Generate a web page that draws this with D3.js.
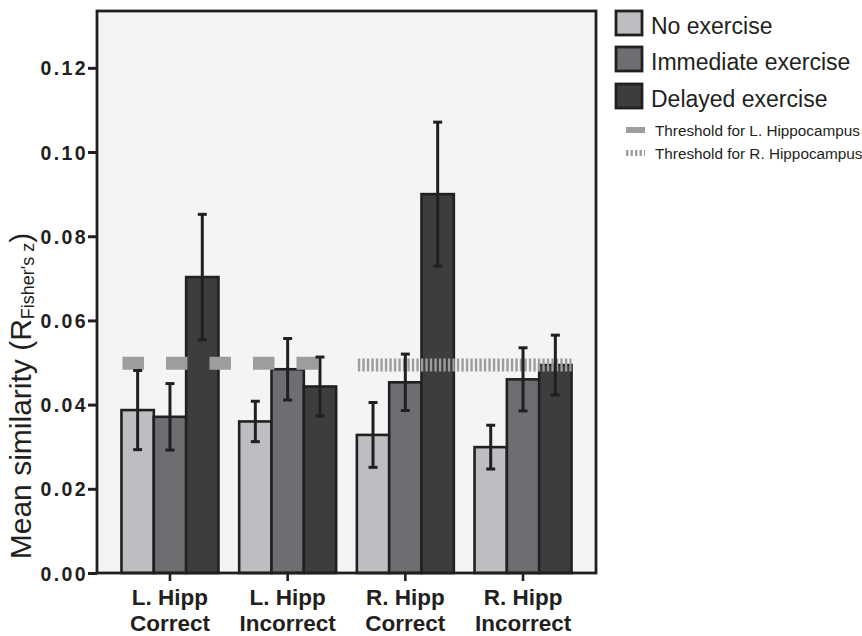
<!DOCTYPE html>
<html>
<head>
<meta charset="utf-8">
<script src="https://cdn.jsdelivr.net/npm/d3@7"></script>
<style>
  html, body { margin: 0; padding: 0; background: #ffffff; }
  svg { display: block; font-family: "Liberation Sans", Arial, Helvetica, sans-serif; }
</style>
</head>
<body>
<svg id="chart" width="862" height="636"></svg>
<script>
// ---- data ----
const categories = [["L. Hipp", "Correct"], ["L. Hipp", "Incorrect"], ["R. Hipp", "Correct"], ["R. Hipp", "Incorrect"]];
const seriesNames = ["No exercise", "Immediate exercise", "Delayed exercise"];
const noExercise = [0.0387, 0.0360, 0.0328, 0.0299];
const immediateExercise = [0.0371, 0.0484, 0.0453, 0.0460];
const delayedExercise = [0.0703, 0.0443, 0.0900, 0.0494];
const noExerciseErr = [0.0094, 0.0048, 0.0077, 0.0052];
const immediateExerciseErr = [0.0079, 0.0073, 0.0067, 0.0075];
const delayedExerciseErr = [0.0149, 0.0070, 0.0171, 0.0071];
const thresholdNames = ["Threshold for L. Hippocampus", "Threshold for R. Hippocampus"];
const thresholdValues = [0.0498, 0.0494];
const thresholdGroups = [[0, 1], [2, 3]];
const yTicks = [0.00, 0.02, 0.04, 0.06, 0.08, 0.10, 0.12];

// ---- styles ----
const seriesColors = ["#bdbec1", "#6d6e72", "#3d3d3e"];
const ink = "#231f20";
const threshColor = "#9c9d9f";

const svg = d3.select("#chart");
const frame = { left: 97, right: 596, top: 11, bottom: 573 };

const x = d3.scaleBand().domain(d3.range(categories.length))
  .range([frame.left, frame.right]).paddingInner(0.176).paddingOuter(0.208);
const xs = d3.scaleBand().domain(d3.range(seriesNames.length)).range([0, x.bandwidth()]);
const y = d3.scaleLinear().domain([0, 0.1335]).range([frame.bottom, frame.top]);

const values = [noExercise, immediateExercise, delayedExercise];
const errs = [noExerciseErr, immediateExerciseErr, delayedExerciseErr];

// plot background
svg.append("rect").attr("x", frame.left).attr("y", frame.top)
  .attr("width", frame.right - frame.left).attr("height", frame.bottom - frame.top)
  .attr("fill", "#f4f4f4");

// bars
const barData = [];
categories.forEach((c, i) => seriesNames.forEach((s, j) => barData.push({ i, j, v: values[j][i], e: errs[j][i] })));

svg.append("g").selectAll("rect").data(barData).join("rect")
  .attr("x", d => x(d.i) + xs(d.j))
  .attr("y", d => y(d.v))
  .attr("width", xs.bandwidth())
  .attr("height", d => y(0) - y(d.v))
  .attr("fill", d => seriesColors[d.j])
  .attr("stroke", ink).attr("stroke-width", 2.6);

// thresholds
svg.append("line")
  .attr("x1", x(thresholdGroups[0][0]) + 1).attr("x2", x(thresholdGroups[0][1]) + x.bandwidth())
  .attr("y1", y(thresholdValues[0])).attr("y2", y(thresholdValues[0]))
  .attr("stroke", threshColor).attr("stroke-width", 13).attr("stroke-dasharray", "21.5,22");
svg.append("line")
  .attr("x1", x(thresholdGroups[1][0]) + 1).attr("x2", x(thresholdGroups[1][1]) + x.bandwidth())
  .attr("y1", y(thresholdValues[1])).attr("y2", y(thresholdValues[1]))
  .attr("stroke", threshColor).attr("stroke-width", 13).attr("stroke-dasharray", "2.4,2.1");

// error bars
const eb = svg.append("g").attr("stroke", ink).attr("stroke-width", 3);
barData.forEach(d => {
  const cx = x(d.i) + xs(d.j) + xs.bandwidth() / 2;
  eb.append("line").attr("x1", cx).attr("x2", cx).attr("y1", y(d.v - d.e)).attr("y2", y(d.v + d.e));
  eb.append("line").attr("x1", cx - 4.5).attr("x2", cx + 4.5).attr("y1", y(d.v + d.e)).attr("y2", y(d.v + d.e));
  eb.append("line").attr("x1", cx - 4.5).attr("x2", cx + 4.5).attr("y1", y(d.v - d.e)).attr("y2", y(d.v - d.e));
});

// frame
svg.append("rect").attr("x", frame.left).attr("y", frame.top)
  .attr("width", frame.right - frame.left).attr("height", frame.bottom - frame.top)
  .attr("fill", "none").attr("stroke", ink).attr("stroke-width", 2.8);

// y axis
const yAxis = d3.axisLeft(y).tickValues(yTicks).tickFormat(d3.format(".2f")).tickSize(9).tickPadding(0);
const gy = svg.append("g").attr("transform", `translate(${frame.left},0)`).call(yAxis);
gy.select(".domain").remove();
gy.selectAll(".tick line").attr("stroke", ink).attr("stroke-width", 3);
gy.selectAll(".tick text").attr("fill", ink).attr("font-size", 19.5).attr("font-weight", "bold")
  .attr("font-family", "'Liberation Sans', Arial, sans-serif").attr("letter-spacing", 2.4)
  .attr("dy", "0.36em");

// x axis ticks
const xAxis = d3.axisBottom(x).tickSize(8).tickFormat("");
const gx = svg.append("g").attr("transform", `translate(0,${frame.bottom})`).call(xAxis);
gx.select(".domain").remove();
gx.selectAll(".tick line").attr("stroke", ink).attr("stroke-width", 2.6);
gx.selectAll(".tick").each(function(d) {
  const t = d3.select(this).append("text").attr("fill", ink).attr("font-size", 22.5)
    .attr("font-weight", "bold").attr("text-anchor", "middle")
    .attr("font-family", "'Liberation Sans', Arial, sans-serif");
  t.append("tspan").attr("x", 0).attr("y", 32).text(categories[d][0]);
  t.append("tspan").attr("x", 0).attr("y", 58).text(categories[d][1]);
});

// y label
const yl = svg.append("text").attr("transform", "translate(31,396) rotate(-90)")
  .attr("text-anchor", "middle").attr("fill", ink).attr("font-size", 30);
yl.append("tspan").text("Mean similarity (R");
yl.append("tspan").attr("font-size", 18).attr("dy", 3).text("Fisher's z");
yl.append("tspan").attr("dy", -3).text(")");

// legend
const lg = svg.append("g");
seriesNames.forEach((s, j) => {
  const ty = [11, 47, 84][j];
  lg.append("rect").attr("x", 616).attr("y", ty).attr("width", 26).attr("height", 24)
    .attr("fill", seriesColors[j]).attr("stroke", ink).attr("stroke-width", 2.8);
  lg.append("text").attr("x", 651).attr("y", ty + 23).attr("font-size", 23).attr("fill", ink).text(s);
});
thresholdNames.forEach((s, k) => {
  const cy = [130, 153][k];
  lg.append("line").attr("x1", 626).attr("x2", 645).attr("y1", cy).attr("y2", cy)
    .attr("stroke", threshColor).attr("stroke-width", 6)
    .attr("stroke-dasharray", k === 0 ? null : "2.4,2.1");
  lg.append("text").attr("x", 655).attr("y", cy + 5.5).attr("font-size", 15.3).attr("fill", ink).text(s);
});
</script>
</body>
</html>
